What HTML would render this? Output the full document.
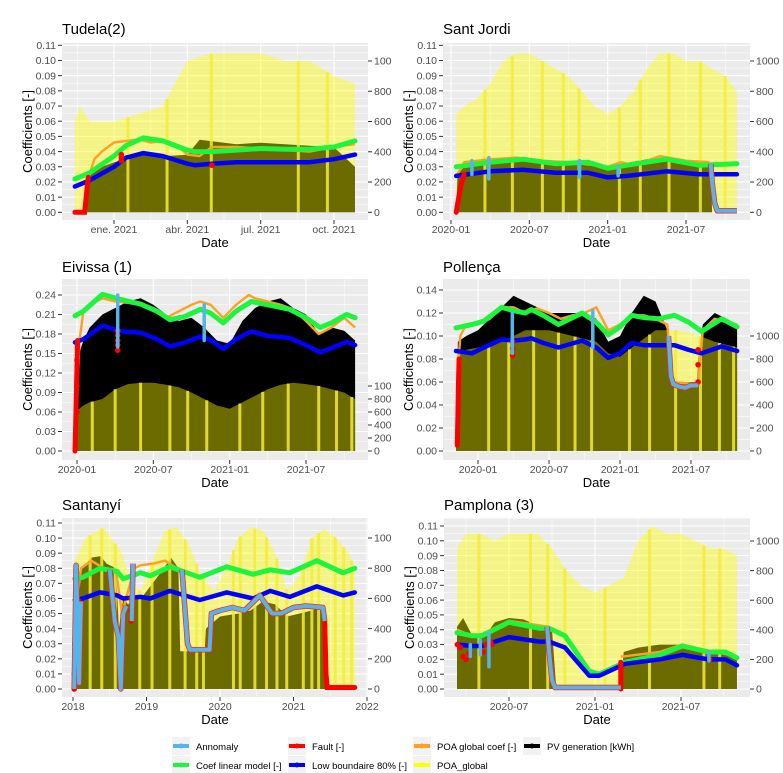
<!DOCTYPE html>
<html><head><meta charset="utf-8">
<style>
html,body{margin:0;padding:0;background:#fff;}
svg{display:block;font-family:"Liberation Sans",Arial,sans-serif;}
</style></head>
<body>
<svg id="chart" width="783" height="773" viewBox="0 0 783 773" xmlns="http://www.w3.org/2000/svg">
<rect x="0" y="0" width="783" height="773" fill="#ffffff"/>
<g id="legend"></g>
</svg>
<script>
// ---------- DATA (months since 2020-01; coefficients on left axis, kWh on right axis) ----------
// Tudela(2)
const tudelaLineX = [10.4,11,12,12.5,13.2,14,15,15.3,16,17,18,19,20,21,21.86];
const tudelaGreen = [0.022,0.026,0.037,0.044,0.049,0.047,0.041,0.040,0.040,0.041,0.042,0.0415,0.0415,0.043,0.047];
const tudelaBlue  = [0.017,0.021,0.030,0.036,0.039,0.037,0.032,0.031,0.032,0.033,0.033,0.033,0.033,0.035,0.038];
const tudelaOrangeX = [10.9,11.2,11.5,12,12.5,13,13.5,14,14.5,15,15.5,16,17,18,19,20,21,21.86];
const tudelaOrange  = [0.020,0.035,0.040,0.046,0.047,0.048,0.046,0.047,0.045,0.038,0.037,0.043,0.043,0.042,0.041,0.040,0.043,0.045];
const tudelaPvX = [10.4,10.9,11,11.5,12,13,14,15,15.5,16,17,18,19,20,21,21.86];
const tudelaPv  = [0,0,250,300,330,380,370,380,480,470,450,460,450,440,430,300];
const tudelaPoaX = [10.4,10.6,11,12,13,14,14.5,15,16,17,18,19,20,21,21.86];
const tudelaPoa  = [600,700,600,600,650,700,850,1000,1050,1050,1050,1000,1000,900,850];
const tudelaStripes = [12.57,14.17,15.98,19.54,20.73];
const tudelaFaultX = [10.4,10.6,10.8,10.85,10.9,10.95];
const tudelaFault  = [0,0,0,0.008,0.016,0.023];
const tudelaFaultSpotsX = [12.3,12.3,12.3,16.0];
const tudelaFaultSpots  = [0.034,0.036,0.038,0.031];
const tudelaAnomX = [];
const tudelaAnom  = [];

// Sant Jordi
const santjordiLineX = [0.4,3,5.5,8,10.5,12,13.5,16.5,19,21.9];
const santjordiGreen = [0.030,0.033,0.035,0.032,0.033,0.029,0.031,0.035,0.031,0.032];
const santjordiBlue  = [0.024,0.027,0.028,0.026,0.026,0.023,0.024,0.027,0.025,0.025];
const santjordiOrangeX = [0.5,1,3,5,7,9,11,12,13,14,16,18,19.8];
const santjordiOrange  = [0.025,0.033,0.035,0.036,0.034,0.033,0.031,0.030,0.033,0.031,0.037,0.034,0.033];
const santjordiPvX = [0.4,0.5,1,3,5,7,9,11,12,13,15,17,19,19.9,20,21.9];
const santjordiPv  = [0,250,300,340,360,340,330,320,280,320,350,360,320,310,0,0];
const santjordiPoaX = [0.4,1,2,3,4,5,6,7,8,9,10,11,12,13,14,15,16,17,18,19,20,21,21.9];
const santjordiPoa  = [650,700,750,850,1000,1050,1050,1000,950,900,800,700,650,700,800,950,1050,1050,1000,1000,950,900,800];
const santjordiStripes = [2.6,4.7,7.0,8.6,9.8,12.9,14.5,16.7,19.1,21.0];
const santjordiFaultX = [0.4,0.6,0.8,1.0];
const santjordiFault  = [0,0.010,0.019,0.025];
const santjordiFaultSpotsX = [];
const santjordiFaultSpots  = [];
const santjordiAnomX = [19.9,20.0,20.2,20.4,20.7,21.9];
const santjordiAnom  = [0.032,0.020,0.006,0.001,0.001,0.001];
const santjordiTicksX = [1.6,2.9,9.85,12.8];
const santjordiTicksLo = [0.025,0.022,0.023,0.024];
const santjordiTicksHi = [0.034,0.036,0.034,0.030];

// Eivissa (1)
const eivissaLineX = [-0.16,0.5,2,3.5,5,6.3,7.3,8.5,9.7,10.5,11.5,12.5,13.7,15,16.7,18,19.1,20,21.2,21.86];
const eivissaGreen = [0.208,0.215,0.241,0.233,0.226,0.215,0.202,0.207,0.218,0.212,0.197,0.215,0.230,0.225,0.218,0.205,0.190,0.197,0.210,0.205];
const eivissaBlue  = [0.167,0.172,0.193,0.184,0.182,0.172,0.161,0.167,0.176,0.171,0.157,0.172,0.184,0.177,0.174,0.163,0.152,0.158,0.168,0.163];
const eivissaOrangeX = [-0.16,0.2,0.5,1,2,3,4,5,6,7,8,9,9.7,10.5,11.5,12.5,13.5,14,15,16,17,18,19,20,21,21.86];
const eivissaOrange  = [0,0.170,0.215,0.225,0.235,0.230,0.228,0.225,0.220,0.205,0.215,0.225,0.230,0.225,0.205,0.225,0.240,0.235,0.230,0.225,0.218,0.200,0.180,0.190,0.205,0.190];
const eivissaPvX = [-0.16,0,0.5,1,2,3,4,5,6,7,8,9,10,11,12,13,14,15,16,17,18,19,20,21,21.86];
const eivissaPv  = [0,1400,1700,1900,2100,2200,2300,2350,2250,2100,2000,2050,1900,1700,1650,2000,2200,2300,2350,2200,2100,1800,1900,1850,1700];
const eivissaPoaX = [-0.16,0.5,1,2,3,4,5,6,7,8,9,10,11,12,13,14,15,16,17,18,19,20,21,21.86];
const eivissaPoa  = [600,700,750,800,950,1030,1050,1050,1020,980,900,800,700,650,750,850,950,1020,1050,1030,1000,950,900,800];
const eivissaStripes = [1.2,3.0,5.0,7.3,8.7,10.2,12.8,14.6,16.6,19.0,20.4,21.6];
const eivissaFaultX = [-0.16,-0.1,-0.05,0.0,0.05];
const eivissaFault  = [0,0.04,0.09,0.13,0.17];
const eivissaFaultSpotsX = [3.2,3.2,3.2,3.2,3.2,0.0,0.0,0.0];
const eivissaFaultSpots  = [0.155,0.163,0.170,0.178,0.185,0.06,0.10,0.14];
const eivissaAnomX = [];
const eivissaAnom  = [];
const eivissaTicksX = [3.2,10.0];
const eivissaTicksLo = [0.160,0.170];
const eivissaTicksHi = [0.240,0.225];

// Pollença
const pollencaLineX = [-1.86,-0.5,0.5,2,3,4,4.5,5.5,6.8,8.8,10,11,12,13,14,15.3,16.6,17.8,18.9,20.6,21.9];
const pollencaGreen = [0.107,0.110,0.113,0.125,0.122,0.120,0.123,0.118,0.110,0.120,0.112,0.101,0.108,0.118,0.116,0.115,0.118,0.112,0.104,0.115,0.108];
const pollencaBlue  = [0.087,0.085,0.090,0.097,0.096,0.097,0.098,0.094,0.090,0.096,0.090,0.081,0.085,0.094,0.092,0.092,0.092,0.088,0.085,0.091,0.087];
const pollencaOrangeX = [-1.86,-1.7,-1.5,-1,0,1,2,3,4,5,6,7,8,9,10,11,12,13,14,15,16,16.4,18.6,19,20,21,21.9];
const pollencaOrange  = [0.005,0.070,0.100,0.110,0.110,0.115,0.125,0.125,0.120,0.124,0.120,0.115,0.118,0.120,0.125,0.105,0.110,0.118,0.118,0.115,0.110,0.060,0.058,0.105,0.115,0.112,0.110];
const pollencaPvX = [-1.86,-1.7,-1,0,1,2,3,4,5,6,7,8,9,10,11,12,13,14,15,16,16.3,16.5,18.5,18.7,19,20,21,21.9];
const pollencaPv  = [0,950,1000,1050,1150,1250,1350,1300,1250,1200,1200,1200,1200,1150,950,1000,1200,1350,1300,1050,900,600,600,900,1100,1200,1150,1100];
const pollencaPoaX = [-1.86,-1,0,2,4,6,8,10,11,12,13,15,17,18,20,21.9];
const pollencaPoa  = [850,880,900,950,1050,1050,1000,950,850,820,900,1050,1050,1030,950,900];
const pollencaStripes = [0.9,2.6,4.7,6.8,8.2,9.6,12.8,14.5,16.7,18.8,20.4,21.6];
const pollencaFaultX = [-1.75,-1.7,-1.65,-1.6];
const pollencaFault  = [0.005,0.03,0.06,0.08];
const pollencaFaultSpotsX = [2.93,2.93,2.93,18.6,18.6,18.6];
const pollencaFaultSpots  = [0.083,0.089,0.095,0.060,0.075,0.088];
const pollencaAnomX = [16.1,16.3,16.5,17.0,17.5,18.0,18.6];
const pollencaAnom  = [0.100,0.065,0.058,0.056,0.055,0.057,0.057];
const pollencaTicksX = [2.9,9.7];
const pollencaTicksLo = [0.085,0.090];
const pollencaTicksHi = [0.120,0.122];

// Santanyí
const santanyiLineX = [-23.7,-22.4,-19.6,-16.8,-15.8,-13,-11.4,-8.2,-3.3,1.1,5.4,8.2,11.4,15.8,20.1,22];
const santanyiGreen = [0.073,0.074,0.080,0.078,0.073,0.077,0.075,0.081,0.074,0.081,0.076,0.079,0.077,0.085,0.077,0.080];
const santanyiBlue  = [0.059,0.060,0.064,0.062,0.060,0.061,0.060,0.065,0.059,0.064,0.060,0.065,0.061,0.068,0.062,0.064];
const santanyiOrangeX = [-23.8,-23.6,-23.3,-22.7,-21,-19,-17,-16,-14,-13,-11,-9,-7,-6.2];
const santanyiOrange  = [0,0.080,0.060,0.080,0.085,0.080,0.079,0.050,0.080,0.082,0.083,0.085,0.080,0.079];
const santanyiPvX = [-24,-23.6,-23.5,-22.5,-21,-19.5,-18.5,-17,-16.5,-15.8,-15,-14,-12.5,-11,-9.5,-8,-6.8,-6.5,-2.5,-2.3,0,3,5,7,9,11,13,15,17.0,17.2,22];
const santanyiPv  = [0,0,750,800,870,880,830,800,400,600,560,600,620,700,780,870,800,250,250,400,480,500,520,580,560,480,500,520,550,0,0];
const santanyiPoaX = [-24,-22,-19,-16,-14.5,-13,-11,-9,-7,-5,-3,-1,1,3,5,7,9,11,13,15,17,19,21,22];
const santanyiPoa  = [820,1000,1070,900,700,650,850,1050,1070,950,750,650,800,1000,1070,1050,900,650,750,1000,1060,1000,900,800];
const santanyiStripes = [-21.2,-19.3,-17.1,-13.1,-11.1,-8.2,-5.7,-3.8,-2.7,2.2,3.3,5.7,7.6,9.3,10.9,13.6,15.0,16.1,18.8,20.2,21.5];
const santanyiFaultX = [17.1,17.3,17.5,18,20,22];
const santanyiFault  = [0.045,0.010,0.001,0.001,0.001,0.001];
const santanyiFaultSpotsX = [-23.8,-23.8,-23.7,-23.7,-23.6,-23.6,-23.5,-23.4,-23.3,-23.2,-23.1,-23.0,-14.5,-14.5,-14.5];
const santanyiFaultSpots  = [0.000,0.010,0.020,0.030,0.040,0.050,0.058,0.045,0.035,0.025,0.055,0.058,0.045,0.052,0.060];
const santanyiAnomX = [-23.8,-23.5,-23.2,-23.0,-22.7,null,-18.0,-17.2,-16.6,-16.2,-15.8,-15.3,null,-14.4,-14.2,null,-6.2,-5.3,-4.9,-1.7,-1.4,0,2,4,5.5,6.5,7.5,8.5,10,12,14,16.8,17.1];
const santanyiAnom  = [0,0.082,0.040,0.004,0.058,null,0.079,0.045,0.035,0.000,0.050,0.055,null,0.045,0.083,null,0.079,0.030,0.026,0.026,0.050,0.052,0.054,0.052,0.058,0.062,0.056,0.050,0.050,0.054,0.055,0.054,0.045];

// Pamplona (3)
const pamplonaLineX = [2.37,3.4,4.1,6.0,8.1,8.8,9.9,11.6,12.3,14.1,16.5,18.1,19.9,21.1,21.9];
const pamplonaGreen = [0.038,0.036,0.036,0.045,0.041,0.041,0.036,0.012,0.010,0.018,0.023,0.029,0.025,0.025,0.021];
const pamplonaBlue  = [0.030,0.029,0.029,0.035,0.032,0.032,0.028,0.009,0.009,0.017,0.020,0.023,0.020,0.020,0.016];
const pamplonaOrangeX = [2.37,3.4,4.1,6,8.1,8.8,null,13.8,14.0,16.5,18.1,19.9,21.9];
const pamplonaOrange  = [0.040,0.036,0.037,0.046,0.043,0.042,null,0.022,0.022,0.025,0.030,0.026,0.022];
const pamplonaPvX = [2.37,2.8,3.5,4.5,5,6,7,8,9,9.3,13.8,14,15,16.5,18,19,20,21.9];
const pamplonaPv  = [420,480,350,380,450,480,470,430,400,0,0,250,280,300,300,280,260,230];
const pamplonaPoaX = [2.37,3,4,5,6,7,8,9,10,11,12,13,14,15,16,17,18,19,20,21,21.9];
const pamplonaPoa  = [950,1050,1050,1000,1050,1050,1050,950,800,700,650,700,750,1000,1100,1050,1050,1000,950,950,900];
const pamplonaStripes = [3.9,7.5,8.7,9.9,12.7,15.8,19.6,20.7];
const pamplonaFaultX = [13.8,13.8];
const pamplonaFault  = [0.0,0.018];
const pamplonaFaultSpotsX = [2.4,2.6,2.8,3.0,3.2,4.2,4.4,4.7,4.8,20.0];
const pamplonaFaultSpots  = [0.030,0.028,0.022,0.020,0.024,0.025,0.030,0.032,0.030,0.020];
const pamplonaAnomX = [8.66,8.8,9.0,9.2,10,12,13.8];
const pamplonaAnom  = [0.042,0.025,0.006,0.001,0.001,0.001,0.001];
const pamplonaTicksX = [3.3,4.0,4.6,19.95];
const pamplonaTicksLo = [0.022,0.023,0.015,0.019];
const pamplonaTicksHi = [0.030,0.033,0.038,0.025];

// ---------- LAYOUT ----------
const NS = "http://www.w3.org/2000/svg";
const svg = document.getElementById('chart');
function el(tag, attrs, parent){ const e=document.createElementNS(NS,tag); for(const k in attrs) e.setAttribute(k,attrs[k]); (parent||svg).appendChild(e); return e; }
function lin(a){ return v => a[1] + (v-a[0])*(a[3]-a[1])/(a[2]-a[0]); }
function interp(xs, ys, m){ if(m<=xs[0]) return ys[0]; for(let i=1;i<xs.length;i++){ if(m<=xs[i]){ const t=(m-xs[i-1])/(xs[i]-xs[i-1]); return ys[i-1]+t*(ys[i]-ys[i-1]); } } return ys[ys.length-1]; }
function pathFrom(xs, ys, fx, fy){ let d='', pen=false; for(let i=0;i<xs.length;i++){ if(xs[i]===null||ys[i]===null){pen=false;continue;} d += (pen?'L':'M')+fx(xs[i]).toFixed(1)+','+fy(ys[i]).toFixed(1); pen=true; } return d; }

const panels = [
 {id:'tudela', title:'Tudela(2)', L:62,R:368,T:43,B:220, xa:[12,114,21,334], ya:[0,212.3,0.11,45.3], ra:[0,212.3,1000,61], lt:{step:0.01,max:0.11}, xt:[12,15,18,21], xl:['ene. 2021','abr. 2021','jul. 2021','oct. 2021'], titleY:34, clipL:0, clipR:392,
  d:{lineX:tudelaLineX,green:tudelaGreen,blue:tudelaBlue,oX:tudelaOrangeX,o:tudelaOrange,pvX:tudelaPvX,pv:tudelaPv,poaX:tudelaPoaX,poa:tudelaPoa,stripes:tudelaStripes,fX:tudelaFaultX,f:tudelaFault,fsX:tudelaFaultSpotsX,fs:tudelaFaultSpots,aX:tudelaAnomX,a:tudelaAnom}},
 {id:'sant-jordi', title:'Sant Jordi', L:443,R:750,T:43,B:220, xa:[0,451,18,686], ya:[0,212.3,0.11,45.3], ra:[0,212.3,1000,61], lt:{step:0.01,max:0.11}, xt:[0,6,12,18], xl:['2020-01','2020-07','2021-01','2021-07'], titleY:34, clipL:392, clipR:783,
  d:{lineX:santjordiLineX,green:santjordiGreen,blue:santjordiBlue,oX:santjordiOrangeX,o:santjordiOrange,pvX:santjordiPvX,pv:santjordiPv,poaX:santjordiPoaX,poa:santjordiPoa,stripes:santjordiStripes,fX:santjordiFaultX,f:santjordiFault,fsX:santjordiFaultSpotsX,fs:santjordiFaultSpots,aX:santjordiAnomX,a:santjordiAnom,tX:santjordiTicksX,tLo:santjordiTicksLo,tHi:santjordiTicksHi}},
 {id:'eivissa', title:'Eivissa (1)', L:62,R:368,T:279,B:460, xa:[0,77,18,306], ya:[0,451,0.24,295], ra:[0,451,1000,386], lt:{step:0.03,max:0.24}, xt:[0,6,12,18], xl:['2020-01','2020-07','2021-01','2021-07'], titleY:272, clipL:0, clipR:392,
  d:{lineX:eivissaLineX,green:eivissaGreen,blue:eivissaBlue,oX:eivissaOrangeX,o:eivissaOrange,pvX:eivissaPvX,pv:eivissaPv,poaX:eivissaPoaX,poa:eivissaPoa,stripes:eivissaStripes,fX:eivissaFaultX,f:eivissaFault,fsX:eivissaFaultSpotsX,fs:eivissaFaultSpots,aX:eivissaAnomX,a:eivissaAnom,tX:eivissaTicksX,tLo:eivissaTicksLo,tHi:eivissaTicksHi}},
 {id:'pollenca', title:'Pollença', L:443,R:750,T:279,B:460, xa:[0,478,18,691], ya:[0,451,0.14,290], ra:[0,451,1000,336], lt:{step:0.02,max:0.14}, xt:[0,6,12,18], xl:['2020-01','2020-07','2021-01','2021-07'], titleY:272, clipL:392, clipR:783,
  d:{lineX:pollencaLineX,green:pollencaGreen,blue:pollencaBlue,oX:pollencaOrangeX,o:pollencaOrange,pvX:pollencaPvX,pv:pollencaPv,poaX:pollencaPoaX,poa:pollencaPoa,stripes:pollencaStripes,fX:pollencaFaultX,f:pollencaFault,fsX:pollencaFaultSpotsX,fs:pollencaFaultSpots,aX:pollencaAnomX,a:pollencaAnom,tX:pollencaTicksX,tLo:pollencaTicksLo,tHi:pollencaTicksHi}},
 {id:'santanyi', title:'Santanyí', L:62,R:368,T:518,B:697, xa:[-24,73,24,367], ya:[0,689,0.11,523], ra:[0,689,1000,538], lt:{step:0.01,max:0.11}, xt:[-24,-12,0,12,24], xl:['2018','2019','2020','2021','2022'], titleY:510, clipL:0, clipR:392,
  d:{lineX:santanyiLineX,green:santanyiGreen,blue:santanyiBlue,oX:santanyiOrangeX,o:santanyiOrange,pvX:santanyiPvX,pv:santanyiPv,poaX:santanyiPoaX,poa:santanyiPoa,stripes:santanyiStripes,fX:santanyiFaultX,f:santanyiFault,fsX:santanyiFaultSpotsX,fs:santanyiFaultSpots,aX:santanyiAnomX,a:santanyiAnom}},
 {id:'pamplona', title:'Pamplona (3)', L:444,R:750,T:518,B:697, xa:[6,509,18,681], ya:[0,689,0.11,526], ra:[0,689,1000,541], lt:{step:0.01,max:0.11}, xt:[6,12,18], xl:['2020-07','2021-01','2021-07'], titleY:510, clipL:392, clipR:783,
  d:{lineX:pamplonaLineX,green:pamplonaGreen,blue:pamplonaBlue,oX:pamplonaOrangeX,o:pamplonaOrange,pvX:pamplonaPvX,pv:pamplonaPv,poaX:pamplonaPoaX,poa:pamplonaPoa,stripes:pamplonaStripes,fX:pamplonaFaultX,f:pamplonaFault,fsX:pamplonaFaultSpotsX,fs:pamplonaFaultSpots,aX:pamplonaAnomX,a:pamplonaAnom,tX:pamplonaTicksX,tLo:pamplonaTicksLo,tHi:pamplonaTicksHi}}
];

const defs = el('defs',{});
panels.forEach(p=>{
  const cp = el('clipPath',{id:'clip-'+p.id},defs);
  el('rect',{x:p.L,y:p.T,width:p.R-p.L,height:p.B-p.T},cp);
  const op = el('clipPath',{id:'outer-'+p.id},defs);
  el('rect',{x:p.clipL,y:0,width:p.clipR-p.clipL,height:773},op);
});

function drawPanel(p){
  const fx=lin(p.xa), fy=lin(p.ya), fr=lin(p.ra), d=p.d;
  const g = el('g',{'clip-path':'url(#outer-'+p.id+')'});
  
  
  const t = el('text',{x:p.L,y:p.titleY,'font-size':'15','fill':'#000'},g);
  t.textContent = p.title;
  
  
  const bg = el('rect',{x:p.L,y:p.T,width:p.R-p.L,height:p.B-p.T,fill:'#ebebeb'},g);
  
  
  const grid = el('g',{},g);
  
  
  const nT = Math.round(p.lt.max/p.lt.step);
  for(let i=0;i<=nT;i++){
    const y=fy(i*p.lt.step);
    el('line',{x1:p.L,x2:p.R,y1:y,y2:y,stroke:'#fff','stroke-width':1.1},grid);
    const ym=fy((i+0.5)*p.lt.step);
    if(ym>p.T) el('line',{x1:p.L,x2:p.R,y1:ym,y2:ym,stroke:'#fff','stroke-width':0.5},grid);
  }
  const stepX = p.xt[1]-p.xt[0];
  for(let m=p.xt[0]-stepX; m<=p.xt[p.xt.length-1]+stepX; m+=stepX){
    const x=fx(m);
    if(x>=p.L && x<=p.R) el('line',{x1:x,x2:x,y1:p.T,y2:p.B,stroke:'#fff','stroke-width':1.1},grid);
    const xm=fx(m+stepX/2);
    if(xm>=p.L && xm<=p.R) el('line',{x1:xm,x2:xm,y1:p.T,y2:p.B,stroke:'#fff','stroke-width':0.5},grid);
  }
  const plot = el('g',{'clip-path':'url(#clip-'+p.id+')'},g);
  const y0=fr(0);
  let pvd = 'M'+fx(d.pvX[0]).toFixed(1)+','+y0+pathFrom(d.pvX,d.pv,fx,fr).replace(/^M/,'L')+'L'+fx(d.pvX[d.pvX.length-1]).toFixed(1)+','+y0+'Z';
  const pva = el('path',{d:pvd,fill:'#000'},plot);
  
  
  let poad = 'M'+fx(d.poaX[0]).toFixed(1)+','+y0+pathFrom(d.poaX,d.poa,fx,fr).replace(/^M/,'L')+'L'+fx(d.poaX[d.poaX.length-1]).toFixed(1)+','+y0+'Z';
  const poaa = el('path',{d:poad,fill:'#ffff00','fill-opacity':0.42},plot);
  
  
  d.stripes.forEach(m=>{
    const top=fr(interp(d.poaX,d.poa,m));
    const s = el('rect',{x:fx(m)-1.5,y:top,width:3,height:y0-top,fill:'#f2ec3a','fill-opacity':0.85},plot);
    
    
  });
  const o = el('path',{d:pathFrom(d.oX,d.o,fx,fy),fill:'none',stroke:'#ffa024','stroke-width':2.4,'stroke-linejoin':'round'},plot);
  
  
  const gr = el('path',{d:pathFrom(d.lineX,d.green,fx,fy),fill:'none',stroke:'#1cf53c','stroke-width':5,'stroke-linecap':'round','stroke-linejoin':'round'},plot);
  
  
  const bl = el('path',{d:pathFrom(d.lineX,d.blue,fx,fy),fill:'none',stroke:'#0000ff','stroke-width':4.5,'stroke-linecap':'round','stroke-linejoin':'round'},plot);
  
  
  if(d.fX.length){
    const f = el('path',{d:pathFrom(d.fX,d.f,fx,fy),fill:'none',stroke:'#ff0000','stroke-width':5,'stroke-linecap':'round'},plot);
    
    
  }
  d.fsX.forEach((m,i)=>{
    const c = el('circle',{cx:fx(m),cy:fy(d.fs[i]),r:2.8,fill:'#ff0000'},plot);
    
    
  });
  if(d.aX.length){
    const pd = pathFrom(d.aX,d.a,fx,fy);
    el('path',{d:pd,fill:'none',stroke:'#ff2020','stroke-width':5.5,'stroke-linejoin':'round'},plot);
    const a = el('path',{d:pd,fill:'none',stroke:'#56b4e9','stroke-width':4,'stroke-linejoin':'round'},plot);
    
    
  }
  if(d.tX){
    d.tX.forEach((m,i)=>{
      const a = el('line',{x1:fx(m),x2:fx(m),y1:fy(d.tLo[i]),y2:fy(d.tHi[i]),stroke:'#56b4e9','stroke-width':3.5,'stroke-linecap':'round'},plot);
      
      
    });
  }
  const ax = el('g',{'font-size':'10.5',fill:'#4d4d4d'},g);
  
  
  for(let i=0;i<=nT;i++){
    const v=i*p.lt.step, y=fy(v);
    el('line',{x1:p.L-4,x2:p.L,y1:y,y2:y,stroke:'#333','stroke-width':1},ax);
    const tx = el('text',{x:p.L-6,y:y+3.7,'text-anchor':'end'},ax);
    tx.textContent = v.toFixed(2);
    
    
  }
  for(let k=0;k<=1000;k+=200){
    const y=fr(k);
    el('line',{x1:p.R,x2:p.R+4,y1:y,y2:y,stroke:'#333','stroke-width':1},ax);
    const tx = el('text',{x:p.R+6,y:y+3.7},ax);
    tx.textContent = String(k);
    
    
  }
  p.xt.forEach((m,i)=>{
    const x=fx(m);
    el('line',{x1:x,x2:x,y1:p.B,y2:p.B+4,stroke:'#333','stroke-width':1},ax);
    const tx = el('text',{x:x,y:p.B+13,'text-anchor':'middle'},ax);
    tx.textContent = p.xl[i];
    
    
  });
  const xt = el('text',{x:(p.L+p.R)/2,y:p.B+27,'text-anchor':'middle','font-size':'13',fill:'#000'},g);
  xt.textContent='Date';
  
  
  const yx = p.L-30, yc=(p.T+p.B)/2;
  const yt = el('text',{x:yx,y:yc,'text-anchor':'middle','font-size':'13',fill:'#000',transform:'rotate(-90 '+yx+' '+yc+')'},g);
  yt.textContent='Coefficients [-]';
  
  
}
panels.forEach(drawPanel);

// ---------- LEGEND ----------
const legendItems = ['Annomaly','Fault [-]','POA global coef [-]','PV generation [kWh]','Coef linear model [-]','Low boundaire 80% [-]','POA_global'];
const legendColors = ['#56b4e9','#ff0000','#ffa024','#000000','#1cf53c','#0000ff','#ffff00'];
const legendCols = [172,288,413,523];
const legend = document.getElementById('legend');
svg.appendChild(legend);
legendItems.forEach((name,i)=>{
  const col = i<4 ? i : i-4, row = i<4 ? 0 : 1;
  const x = legendCols[col], y = 737 + row*19;
  const g = el('g',{},legend);
  
  
  el('rect',{x:x,y:y,width:18,height:18,fill:'#f2f2f2'},g);
  el('line',{x1:x+1,x2:x+17,y1:y+9,y2:y+9,stroke:legendColors[i],'stroke-width':4},g);
  el('circle',{cx:x+9,cy:y+9,r:2.5,fill:legendColors[i]},g);
  const t = el('text',{x:x+24,y:y+13,'font-size':'9.5',fill:'#000'},g);
  t.textContent = name;
});
</script>
</body></html>
